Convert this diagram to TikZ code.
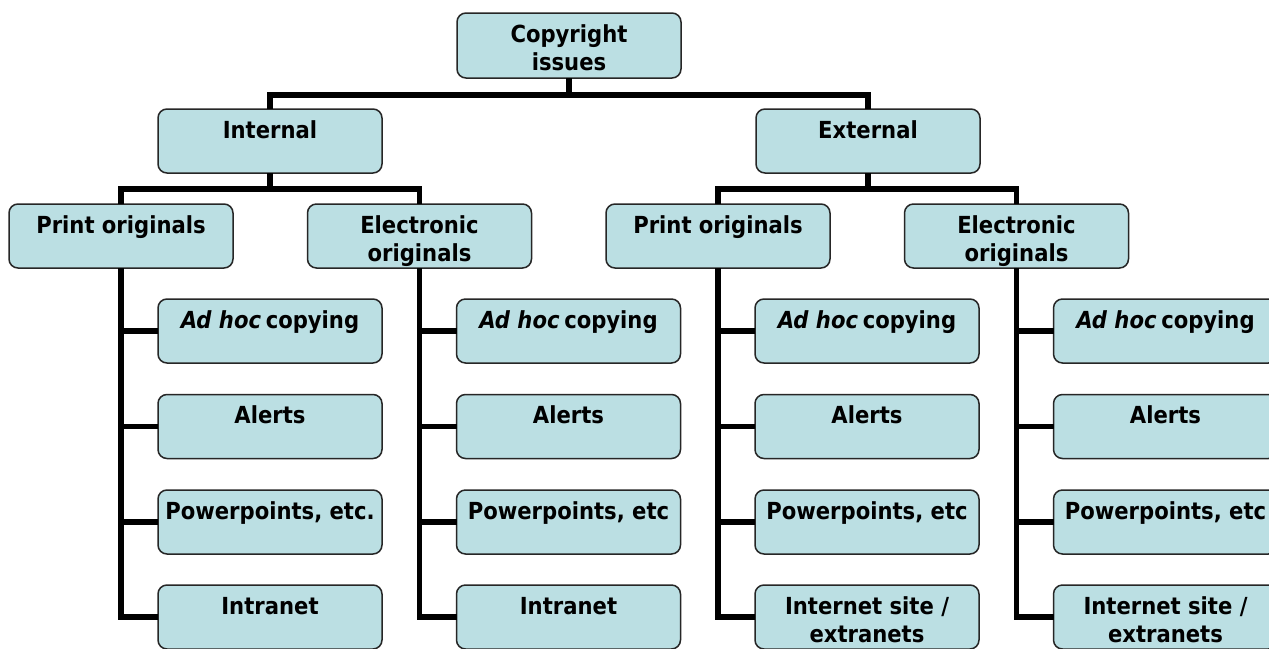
\documentclass[tikz,border=0pt]{standalone}
\usepackage{fontspec}
\setmainfont{DejaVu Sans Condensed}
\definecolor{boxfill}{RGB}{187,223,227}
\newcommand{\boxfont}{\fontsize{23.5}{28.5}\selectfont\bfseries}
\newcommand{\bl}[2][64]{\parbox[c][#1pt][t]{224pt}{\centering\rule{0pt}{29pt}#2}}
\tikzset{
  box/.style={draw=black!85, line width=1.5pt, fill=boxfill, rounded corners=9pt,
              inner sep=0pt, outer sep=0pt, font=\boxfont},
  conn/.style={line width=5.5pt, black, line join=miter},
}
\begin{document}
\begin{tikzpicture}[x=1pt, y=-1pt]
\useasboundingbox (0,0) rectangle (1269,648);
\fill[white] (0,0) rectangle (1269,648);
% level 0
\node[box] (top) at (569,45.5) {\bl[65]{Copyright\\issues}};
% level 1
\node[box] (int) at (270,141) {\bl{Internal}};
\node[box] (ext) at (868,141) {\bl{External}};
% level 2
\node[box] (pa) at (121,236) {\bl{Print originals}};
\node[box] (ea) at (419.5,236) {\bl{Electronic\\originals}};
\node[box] (pb) at (718,236) {\bl{Print originals}};
\node[box] (eb) at (1016.5,236) {\bl{Electronic\\originals}};
% level 3 columns
\node[box] (pa1) at (270,331) {\bl{\textit{Ad hoc}\kern0.2em copying}};
\node[box] (pa2) at (270,426.5) {\bl{Alerts}};
\node[box] (pa3) at (270,522) {\bl{Powerpoints, etc.}};
\node[box] (pa4) at (270,617) {\bl{Intranet}};
\node[box] (ea1) at (568.5,331) {\bl{\textit{Ad hoc}\kern0.2em copying}};
\node[box] (ea2) at (568.5,426.5) {\bl{Alerts}};
\node[box] (ea3) at (568.5,522) {\bl{Powerpoints, etc}};
\node[box] (ea4) at (568.5,617) {\bl{Intranet}};
\node[box] (pb1) at (867,331) {\bl{\textit{Ad hoc}\kern0.2em copying}};
\node[box] (pb2) at (867,426.5) {\bl{Alerts}};
\node[box] (pb3) at (867,522) {\bl{Powerpoints, etc}};
\node[box] (pb4) at (867,617) {\bl{Internet site /\\extranets}};
\node[box] (eb1) at (1165.5,331) {\bl{\textit{Ad hoc}\kern0.2em copying}};
\node[box] (eb2) at (1165.5,426.5) {\bl{Alerts}};
\node[box] (eb3) at (1165.5,522) {\bl{Powerpoints, etc}};
\node[box] (eb4) at (1165.5,617) {\bl{Internet site /\\extranets}};
% connectors
\draw[conn] (top.south) -- ++(0,17) -| (int.north);
\draw[conn] (top.south) -- ++(0,17) -| (ext.north);
\draw[conn] (int.south) -- ++(0,16) -| (pa.north);
\draw[conn] (int.south) -- ++(0,16) -| (ea.north);
\draw[conn] (ext.south) -- ++(0,16) -| (pb.north);
\draw[conn] (ext.south) -- ++(0,16) -| (eb.north);
\foreach \p in {pa,ea,pb,eb}{
  \draw[conn] (\p.south) |- (\p4.west);
  \foreach \k in {1,2,3}{
    \draw[conn] (\p\k.west) -- (\p\k.west -| \p.south);
  }
}
\end{tikzpicture}
\end{document}
